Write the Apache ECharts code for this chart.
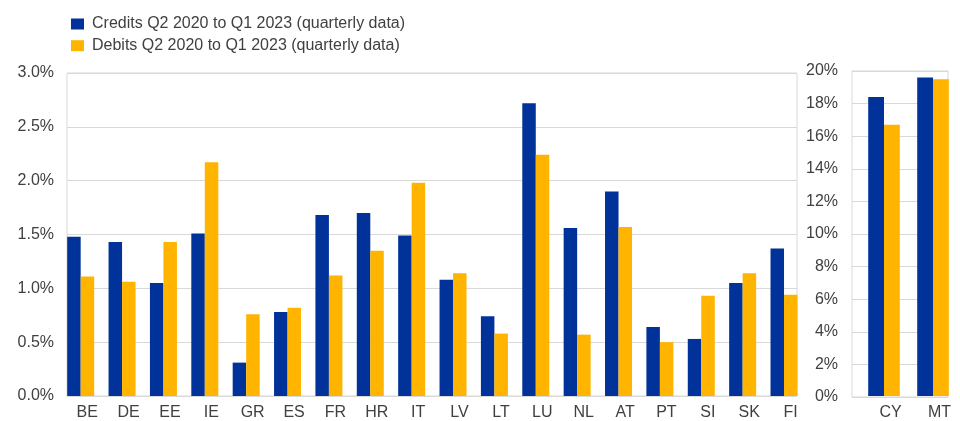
<!DOCTYPE html>
<html>
<head>
<meta charset="utf-8">
<script src="https://cdn.jsdelivr.net/npm/echarts@6/dist/echarts.min.js"></script>
<style>
  html, body { margin: 0; padding: 0; background: #fff; }
  #chart { width: 960px; height: 421px; }
</style>
</head>
<body>
<div id="chart"></div>
<script>
// left panel: euro area countries, right panel: CY and MT (own scale)
const countries = ["BE", "DE", "EE", "IE", "GR", "ES", "FR", "HR", "IT", "LV", "LT", "LU", "NL", "AT", "PT", "SI", "SK", "FI"];
const credits = [1.48, 1.43, 1.05, 1.51, 0.31, 0.78, 1.68, 1.70, 1.49, 1.08, 0.74, 2.72, 1.56, 1.90, 0.64, 0.53, 1.05, 1.37];
const debits = [1.11, 1.06, 1.43, 2.17, 0.76, 0.82, 1.12, 1.35, 1.98, 1.14, 0.58, 2.24, 0.57, 1.57, 0.50, 0.93, 1.14, 0.94];

const smallCountries = ["CY", "MT"];
const smallCredits = [18.4, 19.6];
const smallDebits = [16.7, 19.5];

const leftTicks = [0, 0.5, 1, 1.5, 2, 2.5, 3];
const rightTicks = [0, 2, 4, 6, 8, 10, 12, 14, 16, 18, 20];

const BLUE = "#003299";
const YELLOW = "#FFB400";
const TEXT = "#404040";
const LINE = "#d9d9d9";
const FONT = "Liberation Sans, Arial, sans-serif";

const myChart = echarts.init(document.getElementById("chart"));

const option = {
  animation: false,
  textStyle: { fontFamily: FONT },
  legend: {
    orient: "vertical",
    left: 66,
    top: 11,
    itemWidth: 13,
    itemHeight: 11,
    itemGap: 5.7,
    icon: "rect",
    textStyle: { fontSize: 16, color: TEXT, fontFamily: FONT, padding: [0, 0, 0, 3] },
    data: ["Credits Q2 2020 to Q1 2023 (quarterly data)", "Debits Q2 2020 to Q1 2023 (quarterly data)"],
  },
  grid: [
    // boxes with gridlines
    { left: 67, top: 73, width: 730, height: 323, show: true, borderColor: LINE, borderWidth: 1 },
    { left: 852, top: 71, width: 96, height: 326, show: true, borderColor: LINE, borderWidth: 1 },
    // bar layout grids
    { left: 60, top: 73, width: 744.7, height: 323 },
    { left: 859.5, top: 71, width: 98, height: 326 },
  ],
  xAxis: [
    { gridIndex: 0, type: "category", data: countries, show: false },
    { gridIndex: 1, type: "category", data: smallCountries, show: false },
    {
      gridIndex: 2,
      type: "category",
      data: countries,
      axisLine: { show: false },
      axisTick: { show: false },
      axisLabel: { fontSize: 16, color: TEXT, margin: 9, padding: [0, 0, 0, 13], interval: 0 },
    },
    {
      gridIndex: 3,
      type: "category",
      data: smallCountries,
      axisLine: { show: false },
      axisTick: { show: false },
      axisLabel: { fontSize: 16, color: TEXT, margin: 9, padding: [0, 0, 0, 13], interval: 0 },
    },
  ],
  yAxis: [
    {
      gridIndex: 0,
      type: "value",
      min: leftTicks[0],
      max: leftTicks[leftTicks.length - 1],
      interval: 0.5,
      axisLine: { show: false },
      axisTick: { show: false },
      splitLine: { lineStyle: { color: LINE, width: 1 } },
      axisLabel: { fontSize: 16, color: TEXT, margin: 13, formatter: (v) => v.toFixed(1) + "%" },
    },
    {
      gridIndex: 1,
      type: "value",
      min: rightTicks[0],
      max: rightTicks[rightTicks.length - 1],
      interval: 2,
      axisLine: { show: false },
      axisTick: { show: false },
      splitLine: { lineStyle: { color: LINE, width: 1 } },
      axisLabel: { fontSize: 16, color: TEXT, margin: 14, formatter: (v) => v + "%" },
    },
    { gridIndex: 2, type: "value", min: 0, max: 3, show: false, splitLine: { show: false } },
    { gridIndex: 3, type: "value", min: 0, max: 20, show: false, splitLine: { show: false } },
  ],
  series: [
    {
      name: "Credits Q2 2020 to Q1 2023 (quarterly data)",
      type: "bar",
      xAxisIndex: 2,
      yAxisIndex: 2,
      data: credits,
      barWidth: 13.5,
      barGap: "0%",
      itemStyle: { color: BLUE },
    },
    {
      name: "Debits Q2 2020 to Q1 2023 (quarterly data)",
      type: "bar",
      xAxisIndex: 2,
      yAxisIndex: 2,
      data: debits,
      barWidth: 13.5,
      barGap: "0%",
      itemStyle: { color: YELLOW },
    },
    {
      name: "Credits Q2 2020 to Q1 2023 (quarterly data)",
      type: "bar",
      xAxisIndex: 3,
      yAxisIndex: 3,
      data: smallCredits,
      barWidth: 15.8,
      barGap: "0%",
      itemStyle: { color: BLUE },
    },
    {
      name: "Debits Q2 2020 to Q1 2023 (quarterly data)",
      type: "bar",
      xAxisIndex: 3,
      yAxisIndex: 3,
      data: smallDebits,
      barWidth: 15.8,
      barGap: "0%",
      itemStyle: { color: YELLOW },
    },
  ],
};

myChart.setOption(option);
</script>
</body>
</html>
